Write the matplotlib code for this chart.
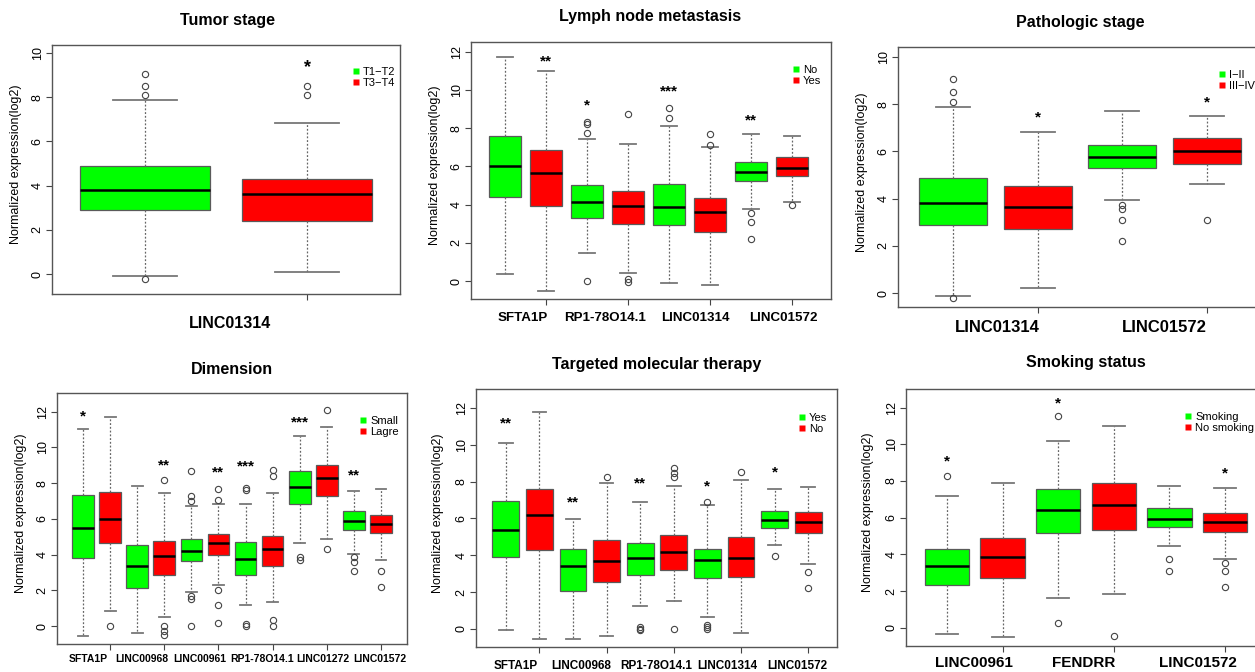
import matplotlib
matplotlib.use("Agg")
import matplotlib.pyplot as plt
from matplotlib.lines import Line2D

plt.rcParams['font.family'] = ['Liberation Sans', 'DejaVu Sans']

W, H = 1255, 672
GREEN = '#00FF00'
RED = '#FF0000'

# ---- Tumor stage ----
tum_q1 = [2.90, 2.42]
tum_med = [3.82, 3.62]
tum_q3 = [4.88, 4.32]
tum_lo = [-0.10, 0.08]
tum_hi = [7.88, 6.85]
tum_out = [[9.05, 8.5, 8.1, -0.2], [8.5, 8.1]]
tum_stars = [(2, 9.6, '*')]
tum_genes = ['LINC01314']
tum_groups = ['T1\u2212T2', 'T3\u2212T4']

# ---- Lymph node metastasis ----
lym_q1 = [4.42, 3.91, 3.28, 3.00, 2.95, 2.55, 5.26, 5.48]
lym_med = [6.01, 5.64, 4.12, 3.93, 3.86, 3.63, 5.73, 5.94]
lym_q3 = [7.58, 6.86, 5.03, 4.73, 5.07, 4.37, 6.25, 6.50]
lym_lo = [0.35, -0.52, 1.48, 0.42, -0.10, -0.19, 3.79, 4.16]
lym_hi = [11.74, 11.02, 7.46, 7.16, 8.10, 7.00, 7.70, 7.62]
lym_out = [[], [], [8.35, 8.2, 7.75, 0.0], [8.75, 0.1, -0.05], [9.05, 8.55],
           [7.7, 7.15], [3.55, 3.1, 2.2], [4.0]]
lym_stars = [(2, 11.77, '**'), (3, 9.47, '*'), (5, 10.17, '***'), (7, 8.68, '**')]
lym_genes = ['SFTA1P', 'RP1-78O14.1', 'LINC01314', 'LINC01572']
lym_groups = ['No', 'Yes']

# ---- Pathologic stage ----
pat_q1 = [2.87, 2.71, 5.31, 5.48]
pat_med = [3.83, 3.63, 5.75, 6.02]
pat_q3 = [4.86, 4.53, 6.27, 6.57]
pat_lo = [-0.11, 0.20, 3.95, 4.63]
pat_hi = [7.88, 6.84, 7.70, 7.49]
pat_out = [[9.05, 8.5, 8.1, -0.2], [], [3.75, 3.55, 3.1, 2.2], [3.1]]
pat_stars = [(2, 7.63, '*'), (4, 8.28, '*')]
pat_genes = ['LINC01314', 'LINC01572']
pat_groups = ['I\u2212II', 'III\u2212IV']

# ---- Dimension ----
dim_q1 = [3.81, 4.63, 2.16, 2.89, 3.66, 3.99, 2.89, 3.38, 6.81, 7.31, 5.39, 5.19]
dim_med = [5.52, 6.01, 3.36, 3.94, 4.22, 4.63, 3.75, 4.29, 7.80, 8.32, 5.88, 5.73]
dim_q3 = [7.33, 7.52, 4.55, 4.79, 4.89, 5.15, 4.70, 5.06, 8.69, 9.01, 6.44, 6.21]
dim_lo = [-0.54, 0.84, -0.41, 0.50, 1.92, 2.33, 1.21, 1.36, 4.63, 4.87, 4.05, 3.69]
dim_hi = [11.01, 11.72, 7.87, 7.48, 6.73, 6.83, 6.81, 7.43, 10.65, 11.16, 7.59, 7.69]
dim_out = [[], [0.0], [], [8.2, 0.0, -0.3, -0.5], [8.66, 7.3, 7.0, 1.7, 1.5, 0.0],
           [7.65, 7.05, 2.0, 1.2, 0.2], [7.75, 7.6, 0.1, 0.0], [8.75, 8.4, 0.35, 0.0],
           [3.85, 3.7], [12.1, 4.3], [3.85, 3.6, 3.1], [3.1, 2.2]]
dim_stars = [(1, 12.0, '*'), (4, 9.29, '**'), (6, 8.86, '**'), (7, 9.2, '***'),
             (9, 11.68, '***'), (11, 8.73, '**')]
dim_genes = ['SFTA1P', 'LINC00968', 'LINC00961', 'RP1-78O14.1', 'LINC01272', 'LINC01572']
dim_groups = ['Small', 'Lagre']

# ---- Targeted molecular therapy ----
tar_q1 = [3.89, 4.29, 2.08, 2.57, 2.93, 3.20, 2.79, 2.81, 5.48, 5.23]
tar_med = [5.38, 6.17, 3.42, 3.67, 3.84, 4.16, 3.75, 3.86, 5.94, 5.79]
tar_q3 = [6.97, 7.58, 4.33, 4.81, 4.65, 5.12, 4.36, 5.01, 6.41, 6.37]
tar_lo = [-0.05, -0.54, -0.54, -0.38, 1.23, 1.50, 0.63, -0.20, 4.54, 3.53]
tar_hi = [10.12, 11.76, 5.97, 7.91, 6.88, 7.78, 6.75, 8.11, 7.60, 7.71]
tar_out = [[], [], [], [8.27], [0.1, 0.0, -0.05], [8.75, 8.45, 8.25, 0.0],
           [6.9, 0.2, 0.1, 0.0], [8.5], [3.98], [3.1, 2.2]]
tar_stars = [(1, 11.42, '**'), (3, 7.15, '**'), (5, 8.14, '**'), (7, 8.0, '*'), (9, 8.76, '*')]
tar_genes = ['SFTA1P', 'LINC00968', 'RP1-78O14.1', 'LINC01314', 'LINC01572']
tar_groups = ['Yes', 'No']

# ---- Smoking status ----
smo_q1 = [2.31, 2.73, 5.18, 5.33, 5.47, 5.22]
smo_med = [3.35, 3.84, 6.40, 6.71, 5.95, 5.76]
smo_q3 = [4.29, 4.89, 7.55, 7.91, 6.55, 6.27]
smo_lo = [-0.36, -0.53, 1.64, 1.82, 4.47, 3.76]
smo_hi = [7.20, 7.91, 10.18, 11.02, 7.73, 7.64]
smo_out = [[8.25], [], [11.53, 0.25], [-0.45], [3.75, 3.1], [3.55, 3.1, 2.2]]
smo_stars = [(1, 9.33, '*'), (3, 12.5, '*'), (6, 8.65, '*')]
smo_genes = ['LINC00961', 'FENDRR', 'LINC01572']
smo_groups = ['Smoking', 'No smoking']


fig = plt.figure(figsize=(W / 100, H / 100), dpi=100)


def fx(x):
    return x / W


def fy(y):
    return 1 - y / H


def panel(rect, q1, med, q3, lo, hi, out, stars, xlim, ylim, ymax,
          title, title_xy, genes, gene_x, gene_y, gene_size, groups, leg_xy, ylab_x,
          star_size=11):
    l, t, r, b = rect
    ax = fig.add_axes([fx(l), fy(b), (r - l) / W, (b - t) / H])
    stats = []
    for i in range(len(q1)):
        stats.append(dict(q1=q1[i], med=med[i], q3=q3[i], whislo=lo[i], whishi=hi[i],
                          fliers=out[i]))
    pos = list(range(1, len(q1) + 1))
    bp = ax.bxp(stats, positions=pos, widths=0.8, capwidths=0.4, patch_artist=True,
                boxprops=dict(edgecolor='#5a5a5a', linewidth=0.9),
                medianprops=dict(color='black', linewidth=1.8),
                whiskerprops=dict(color='#666666', linestyle=(0, (1.5, 1.5)), linewidth=0.9),
                capprops=dict(color='#777777', linewidth=1.3),
                flierprops=dict(marker='o', markerfacecolor='none', markeredgecolor='#444444',
                                markersize=4.5, markeredgewidth=0.8))
    for i, p in enumerate(bp['boxes']):
        p.set_facecolor(GREEN if i % 2 == 0 else RED)
    for (p, yv, s) in stars:
        ax.annotate(s, (p, yv), xytext=(0, -star_size * 0.58), textcoords='offset points',
                    ha='center', va='baseline', fontsize=star_size, fontweight='bold')
    ax.set_xlim(*xlim)
    ax.set_ylim(*ylim)
    ax.set_yticks(range(0, ymax + 1, 2))
    ax.tick_params(axis='y', labelrotation=90, length=4, pad=2, labelsize=9, color='#444444')
    for lab in ax.get_yticklabels():
        lab.set_va('center')
    ax.set_xticks(pos[1::2])
    ax.set_xticklabels([])
    ax.tick_params(axis='x', length=4, color='#444444')
    for sp in ax.spines.values():
        sp.set_color('#555555')
        sp.set_linewidth(1)
    fig.text(fx(ylab_x), fy((t + b) / 2 - 5), 'Normalized expression(log2)', rotation=90,
             ha='center', va='center', fontsize=9)
    fig.text(fx(title_xy[0]), fy(title_xy[1]), title, ha='center', va='center',
             fontsize=11.5, fontweight='bold')
    for g, gx in zip(genes, gene_x):
        fig.text(fx(gx), fy(gene_y), g, ha='center', va='center', fontsize=gene_size,
                 fontweight='bold')
    handles = [Line2D([], [], marker='s', color='none', markerfacecolor=c, markeredgecolor='none',
                      markersize=5) for c in (GREEN, RED)]
    ax.legend(handles, groups, loc='upper left', bbox_to_anchor=(fx(leg_xy[0]), fy(leg_xy[1])),
              bbox_transform=fig.transFigure, frameon=False, fontsize=8, handlelength=0.6,
              handletextpad=0.3, labelspacing=0.05, borderpad=0, borderaxespad=0)
    return ax


panel((52, 45, 400, 294), tum_q1, tum_med, tum_q3, tum_lo, tum_hi, tum_out, tum_stars,
      (0.426, 2.574), (-0.9, 10.36), 10, 'Tumor stage', (227, 21),
      tum_genes, [230], 323, 11.5, tum_groups, (353, 67), 16, star_size=13)

panel((471, 42, 831, 299), lym_q1, lym_med, lym_q3, lym_lo, lym_hi, lym_out, lym_stars,
      (0.17, 8.95), (-0.94, 12.52), 12, 'Lymph node metastasis', (650, 17),
      lym_genes, [523, 605, 695, 783], 318, 9.6, lym_groups, (793, 65), 435)

panel((898, 47, 1262, 307), pat_q1, pat_med, pat_q3, pat_lo, pat_hi, pat_out, pat_stars,
      (0.35, 4.65), (-0.59, 10.42), 10, 'Pathologic stage', (1080, 22),
      pat_genes, [997, 1164], 328, 12, pat_groups, (1219, 70), 862)

panel((57, 393, 407, 644), dim_q1, dim_med, dim_q3, dim_lo, dim_hi, dim_out, dim_stars,
      (0.04, 12.96), (-1.0, 13.05), 12, 'Dimension', (232, 369),
      dim_genes, [88, 142, 200, 262, 323, 380], 659, 7.5, dim_groups, (360, 416), 21)

panel((476, 389, 837, 647), tar_q1, tar_med, tar_q3, tar_lo, tar_hi, tar_out, tar_stars,
      (0.11, 10.86), (-0.98, 13.03), 12, 'Targeted molecular therapy', (657, 364),
      tar_genes, [516, 581, 656, 727, 797], 666, 8.5, tar_groups, (799, 413), 438)

panel((906, 389, 1266, 646), smo_q1, smo_med, smo_q3, smo_lo, smo_hi, smo_out, smo_stars,
      (0.26, 6.74), (-1.0, 13.02), 12, 'Smoking status', (1086, 363),
      smo_genes, [974, 1084, 1198], 663, 11, smo_groups, (1185, 412), 868)

fig.savefig('out.png', dpi=100)
